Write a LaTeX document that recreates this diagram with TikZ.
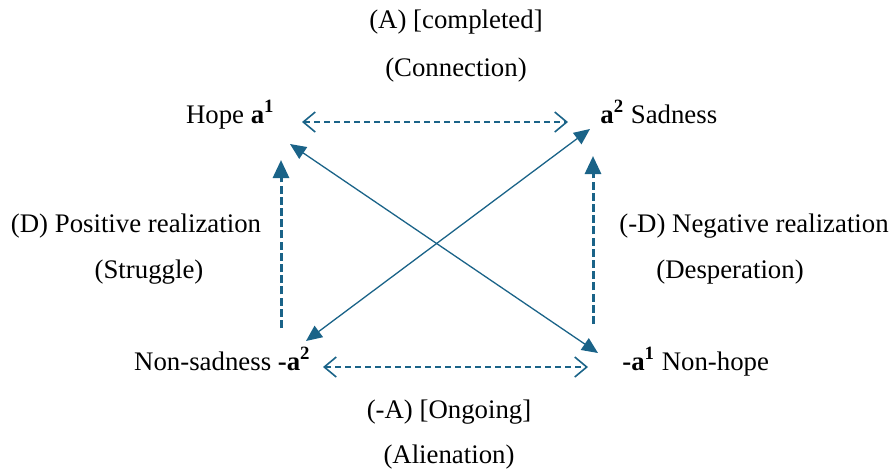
\documentclass[tikz,border=0pt]{standalone}
\usepackage{fontspec}
\setmainfont{Liberation Serif}
\usetikzlibrary{arrows.meta}
\definecolor{teal}{RGB}{26,99,136}

\begin{document}
\begin{tikzpicture}[
  x=0.5pt, y=-0.5pt, font=\fontsize{13.4}{16}\selectfont,
  lbl/.style={anchor=base, inner sep=0pt},
  cross/.style={{Triangle[length=8pt,width=7pt]}-{Triangle[length=8pt,width=7pt]}, teal, line width=0.65pt},
  realize/.style={-{Triangle[length=9pt,width=8pt]}, teal, line width=1.5pt, dash pattern=on 4pt off 1.6pt},
  link/.style={{Straight Barb[length=6pt,width=10pt]}-{Straight Barb[length=6pt,width=10pt]}, teal, line width=0.8pt, dash pattern=on 3pt off 2pt},
]
  \useasboundingbox (0,0) rectangle (890,473);
  % corner terms
  \node[lbl, anchor=base east] (hope) at (275,123) {Hope \textbf{a\textsuperscript{1}}};
  \node[lbl, anchor=base west] (sad) at (600,123) {\textbf{a\textsuperscript{2}} Sadness};
  \node[lbl, anchor=base east] (nonsad) at (311,370) {Non-sadness \textbf{-a\textsuperscript{2}}};
  \node[lbl, anchor=base west] (nonhope) at (622,370) {\textbf{-a\textsuperscript{1}} Non-hope};
  % relation labels
  \node[lbl] (compl) at (456,28) {(A) [completed]};
  \node[lbl] (conn) at (456,76) {(Connection)};
  \node[lbl] (posr) at (136,232) {(D) Positive realization};
  \node[lbl] (strug) at (149,278) {(Struggle)};
  \node[lbl] (negr) at (754,232) {(-D) Negative realization};
  \node[lbl] (desp) at (730,278) {(Desperation)};
  \node[lbl] (ongo) at (449,418) {(-A) [Ongoing]};
  \node[lbl] (alien) at (449,463) {(Alienation)};
  % arrow ends
  \coordinate (hopeE) at (302,122);
  \coordinate (sadW) at (568,122);
  \coordinate (nonsadE) at (323,367);
  \coordinate (nonhopeW) at (588,367);
  \coordinate (hopeS) at (281,160);
  \coordinate (nonsadN) at (281,328);
  \coordinate (sadS) at (593,156);
  \coordinate (nonhopeN) at (593,324);
  \coordinate (hopeX) at (290,144);
  \coordinate (nonhopeX) at (598,353);
  \coordinate (sadX) at (590,129);
  \coordinate (nonsadX) at (306,341);
  \draw[link] (hopeE) -- (sadW);
  \draw[link] (nonsadE) -- (nonhopeW);
  \draw[realize] (nonsadN) -- (hopeS);
  \draw[realize] (nonhopeN) -- (sadS);
  \draw[cross] (hopeX) -- (nonhopeX);
  \draw[cross] (nonsadX) -- (sadX);
\end{tikzpicture}
\end{document}
